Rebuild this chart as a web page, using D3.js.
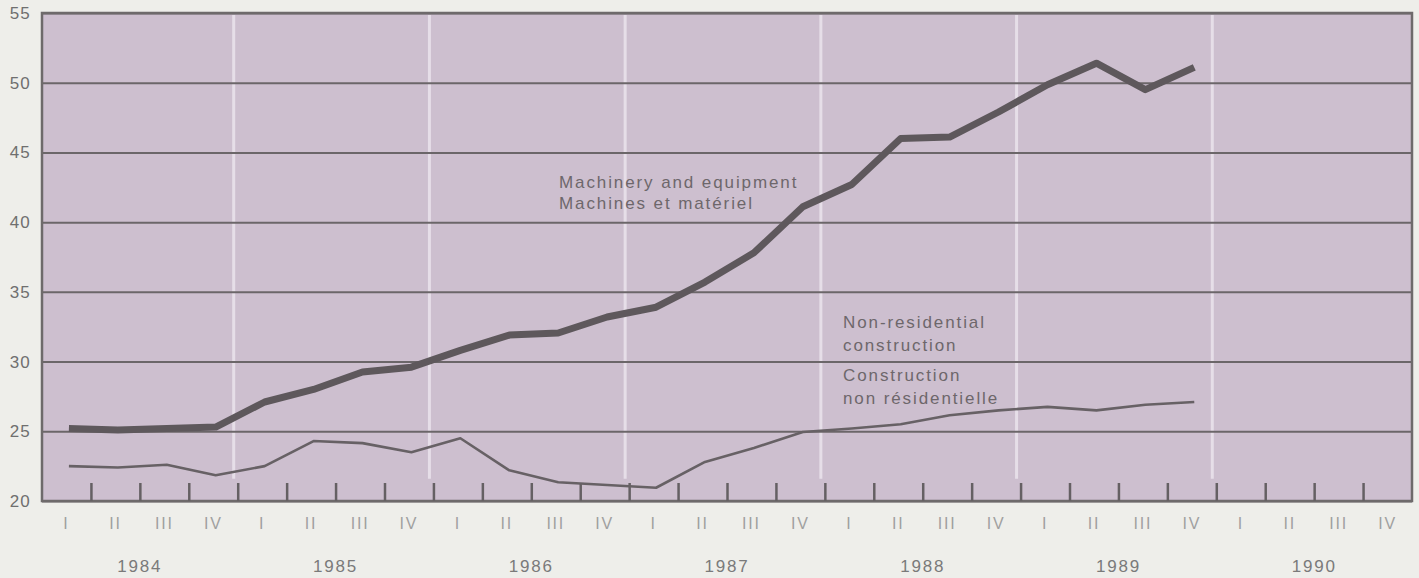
<!DOCTYPE html>
<html>
<head>
<meta charset="utf-8">
<script src="https://cdn.jsdelivr.net/npm/d3@7"></script>
<style>
  body { margin: 0; background: #eeeeea; }
  svg { display: block; font-family: "Liberation Sans", Arial, sans-serif; }
</style>
</head>
<body>
<script>
// data
const years = [1984, 1985, 1986, 1987, 1988, 1989, 1990];
const quarters = ["I", "II", "III", "IV"];
const yTicks = [20, 25, 30, 35, 40, 45, 50, 55];
// 1984 Q1 .. 1989 Q4
const machinery = [
  25.2, 25.1, 25.2, 25.3,
  27.1, 28.0, 29.25, 29.6,
  30.8, 31.9, 32.05, 33.2,
  33.9, 35.7, 37.8, 41.1,
  42.7, 46.0, 46.1, 47.9,
  49.85, 51.4, 49.5, 51.1,
];
const nonResidential = [
  22.5, 22.4, 22.6, 21.85,
  22.5, 24.3, 24.15, 23.5,
  24.5, 22.2, 21.35, 21.15,
  20.95, 22.8, 23.8, 24.95,
  25.2, 25.5, 26.15, 26.5,
  26.75, 26.5, 26.9, 27.1,
];
const machineryLabel = ["Machinery and equipment", "Machines et matériel"];
const nonResLabel = ["Non-residential", "construction", "Construction", "non résidentielle"];

const W = 1419, H = 578;
const MARGIN = { left: 42, right: 7, top: 13, bottom: 77 };
const nQ = years.length * 4;

const x = d3.scaleLinear().domain([0, nQ]).range([MARGIN.left, W - MARGIN.right]);
const y = d3.scaleLinear().domain([20, 55]).range([H - MARGIN.bottom, MARGIN.top]);

const qIds = d3.range(nQ);
const qBand = d3.scaleBand().domain(qIds).range(x.range());
const yearBand = d3.scaleBand().domain(years).range(x.range());

const svg = d3.select("body").append("svg")
  .attr("width", W)
  .attr("height", H)
  .attr("viewBox", [0, 0, W, H]);

// plot background
svg.append("rect")
  .attr("x", x(0))
  .attr("y", y(55))
  .attr("width", x(nQ) - x(0))
  .attr("height", y(20) - y(55))
  .attr("fill", "#cdbfcf");

// pale year separators
svg.append("g")
  .selectAll("line")
  .data(d3.range(1, years.length))
  .join("line")
  .attr("x1", d => x(d * 4) - 4)
  .attr("x2", d => x(d * 4) - 4)
  .attr("y1", y(55) + 2)
  .attr("y2", y(21.6))
  .attr("stroke", "#e6dee8")
  .attr("stroke-width", 3);

// horizontal grid
svg.append("g")
  .attr("transform", `translate(${x(0)},0)`)
  .call(d3.axisLeft(y).tickValues(yTicks).tickSize(-(x(nQ) - x(0))).tickFormat(""))
  .call(g => g.select(".domain").remove())
  .call(g => g.selectAll("line").attr("stroke", "#6b6669").attr("stroke-width", 2));

// frame
svg.append("rect")
  .attr("x", x(0))
  .attr("y", y(55))
  .attr("width", x(nQ) - x(0))
  .attr("height", y(20) - y(55))
  .attr("fill", "none")
  .attr("stroke", "#6e6a6b")
  .attr("stroke-width", 2.5);

// quarter ticks
svg.append("g")
  .attr("transform", `translate(0,${y(20)})`)
  .call(d3.axisBottom(x).tickValues(d3.range(1, nQ)).tickSize(-18).tickFormat(""))
  .call(g => g.select(".domain").remove())
  .call(g => g.selectAll("line").attr("stroke", "#656063").attr("stroke-width", 2.5));

// y labels
svg.append("g")
  .attr("transform", `translate(${x(0)},0)`)
  .call(d3.axisLeft(y).tickValues(yTicks).tickSize(0).tickPadding(11))
  .call(g => g.select(".domain").remove())
  .call(g => g.selectAll("text")
    .attr("font-size", 17)
    .attr("letter-spacing", 1.2)
    .attr("fill", "#6f6f6f"));

// quarter labels
svg.append("g")
  .attr("transform", `translate(0,${y(20) + 14})`)
  .call(d3.axisBottom(qBand).tickSize(0).tickFormat(d => quarters[d % 4]))
  .call(g => g.select(".domain").remove())
  .call(g => g.selectAll("text")
    .attr("font-size", 16)
    .attr("letter-spacing", 1.8)
    .attr("fill", "#a0a0a0"));

// year labels
svg.append("g")
  .attr("transform", `translate(0,${y(20) + 56})`)
  .call(d3.axisBottom(yearBand).tickSize(0))
  .call(g => g.select(".domain").remove())
  .call(g => g.selectAll("text")
    .attr("font-size", 17)
    .attr("letter-spacing", 1.8)
    .attr("fill", "#7a7a7a"));

// lines
const line = d3.line()
  .x((d, i) => x(i + 0.55))
  .y(d => y(d));

svg.append("path")
  .datum(nonResidential)
  .attr("fill", "none")
  .attr("stroke", "#676165")
  .attr("stroke-width", 2.6)
  .attr("stroke-linejoin", "round")
  .attr("d", line);

svg.append("path")
  .datum(machinery)
  .attr("fill", "none")
  .attr("stroke", "#5e585c")
  .attr("stroke-width", 7)
  .attr("stroke-linejoin", "round")
  .attr("d", line);

// series labels
const labels = svg.append("g")
  .attr("font-size", 17)
  .attr("letter-spacing", 1.9)
  .attr("fill", "#6d676b");

labels.selectAll("text.m")
  .data(machineryLabel)
  .join("text")
  .attr("class", "m")
  .attr("x", 559)
  .attr("y", (d, i) => 188 + i * 21)
  .text(d => d);

labels.selectAll("text.n")
  .data(nonResLabel)
  .join("text")
  .attr("class", "n")
  .attr("x", 843)
  .attr("y", (d, i) => [328, 351, 381, 404][i])
  .text(d => d);
</script>
</body>
</html>
